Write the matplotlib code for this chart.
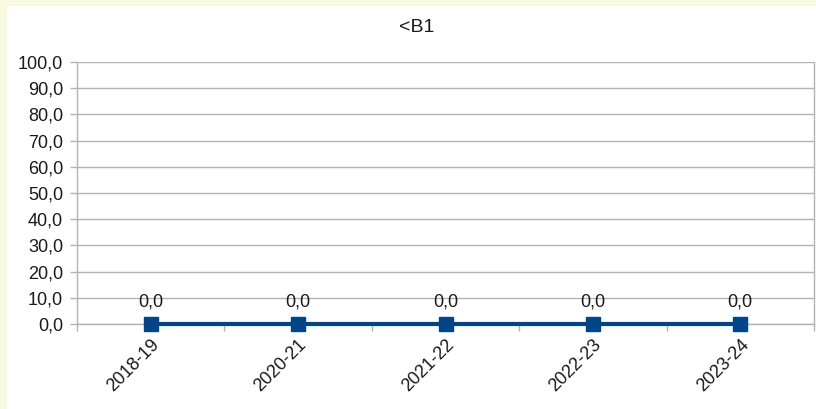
import matplotlib
matplotlib.use("Agg")
import matplotlib.pyplot as plt
from matplotlib.patches import Rectangle
from matplotlib.transforms import ScaledTranslation
from matplotlib.ticker import FuncFormatter, MultipleLocator

# ── Data ──────────────────────────────────────────────────────────────────────
seasons = ["2018-19", "2020-21", "2021-22", "2022-23", "2023-24"]
values = [0.0, 0.0, 0.0, 0.0, 0.0]
title = "<B1"

LINE_COLOUR = "#004586"
GRID_COLOUR = "#b3b3b3"
TEXT_COLOUR = "#1a1a1a"

plt.rcParams.update({
    "font.family": ["Liberation Sans", "DejaVu Sans"],
    "font.size": 13,
})

fig = plt.figure(figsize=(8.16, 4.09), dpi=100, facecolor="#f8f9df")
# white chart page inset from the yellow border
fig.patches.append(Rectangle((7 / 816, 0), 1, 1 - 6 / 409,
                             transform=fig.transFigure, facecolor="white",
                             edgecolor="none", zorder=-10))

ax = fig.add_axes([77 / 816, 1 - 324 / 409, (814 - 77) / 816, (324 - 62) / 409])
ax.set_facecolor("none")

x = range(len(seasons))
ax.plot(x, values, color=LINE_COLOUR, linewidth=3, marker="s",
        markersize=10.5, zorder=3, clip_on=False)

for xi, v in zip(x, values):
    ax.annotate(f"{v:.1f}".replace(".", ","), (xi, v), xytext=(0, 10),
                textcoords="offset points", ha="center", va="bottom",
                fontsize=13, color=TEXT_COLOUR)

ax.set_xlim(-0.5, len(seasons) - 0.5)
ax.set_ylim(0, 100)
ax.yaxis.set_major_locator(MultipleLocator(10))
ax.yaxis.set_major_formatter(FuncFormatter(lambda v, _: f"{v:.1f}".replace(".", ",")))

ax.set_xticks([i - 0.5 for i in range(len(seasons) + 1)])
ax.set_xticklabels([])
ax.set_xticks(list(x), minor=True)
ax.set_xticklabels(seasons, minor=True, rotation=45, ha="right",
                   rotation_mode="anchor")
# nudge rotated labels so their end sits just right of the category centre
shift = ScaledTranslation(5 / 100, 0, fig.dpi_scale_trans)
for lbl in ax.get_xticklabels(minor=True):
    lbl.set_transform(lbl.get_transform() + shift)
ax.tick_params(axis="x", which="minor", length=0, pad=9, labelsize=13,
               labelcolor=TEXT_COLOUR)
ax.tick_params(axis="x", which="major", length=5, color=GRID_COLOUR, width=1)
ax.tick_params(axis="y", length=5, color=GRID_COLOUR, width=1, pad=5,
               labelsize=13, labelcolor=TEXT_COLOUR)

ax.grid(axis="y", color=GRID_COLOUR, linewidth=1)
for side in ("left", "right", "bottom"):
    ax.spines[side].set_color(GRID_COLOUR)
    ax.spines[side].set_linewidth(1)
ax.spines["top"].set_visible(False)

fig.text(417 / 816, 1 - 27 / 409, title, ha="center", va="center",
         fontsize=14, color=TEXT_COLOUR)

fig.savefig("out.png", dpi=100, facecolor=fig.get_facecolor())
